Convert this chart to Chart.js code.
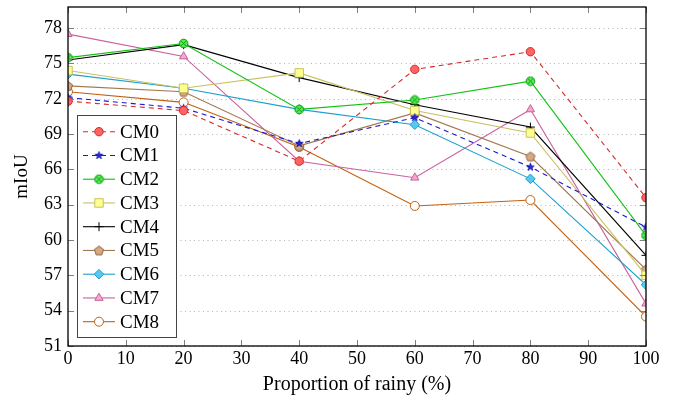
<!DOCTYPE html>
<html>
<head>
<meta charset="utf-8">
<script src="https://cdn.jsdelivr.net/npm/chart.js@4.4.1/dist/chart.umd.min.js"></script>
<style>
  html, body { margin: 0; padding: 0; background: #fff; }
  #wrap { width: 677px; height: 401px; }
</style>
</head>
<body>
<div id="wrap"><canvas id="chart" width="677" height="401"></canvas></div>
<script>
// ---------- data ----------
const xValues = [0, 20, 40, 60, 80, 100];
const seriesNames = ["CM0", "CM1", "CM2", "CM3", "CM4", "CM5", "CM6", "CM7", "CM8"];

const cm0 = [71.8, 71.0, 66.7, 74.5, 76.0, 63.6];
const cm1 = [72.1, 71.2, 68.2, 70.4, 66.2, 61.1];
const cm2 = [75.5, 76.7, 71.1, 71.9, 73.5, 60.4];
const cm3 = [74.4, 72.9, 74.2, 71.0, 69.1, 57.0];
const cm4 = [75.3, 76.6, 73.8, 71.5, 69.6, 58.7];
const cm5 = [73.1, 72.6, 68.0, 70.8, 67.1, 57.5];
const cm6 = [74.1, 72.9, 71.1, 69.8, 65.2, 56.2];
const cm7 = [77.5, 75.6, 66.7, 65.3, 71.1, 54.6];
const cm8 = [72.6, 71.7, 67.9, 62.9, 63.4, 53.5];

const yTicks = [51, 54, 57, 60, 63, 66, 69, 72, 75, 78];
const xTicks = [0, 10, 20, 30, 40, 50, 60, 70, 80, 90, 100];

const FONT = "'Liberation Serif', 'DejaVu Serif', serif";

// ---------- custom markers ----------
function makeMarker(size, draw) {
  const c = document.createElement("canvas");
  c.width = size; c.height = size;
  draw(c.getContext("2d"), size / 2);
  return c;
}

const crossCircle = makeMarker(11, (g, m) => {
  g.beginPath(); g.arc(m, m, 4.3, 0, Math.PI * 2);
  g.fillStyle = "#5ee65e"; g.fill();
  g.strokeStyle = "#00a000"; g.lineWidth = 1; g.stroke();
  g.beginPath();
  g.moveTo(m - 2.9, m - 2.9); g.lineTo(m + 2.9, m + 2.9);
  g.moveTo(m + 2.9, m - 2.9); g.lineTo(m - 2.9, m + 2.9);
  g.stroke();
});

const pentagon = makeMarker(12, (g, m) => {
  g.beginPath();
  for (let i = 0; i < 5; i++) {
    const a = -Math.PI / 2 + i * 2 * Math.PI / 5;
    const px = m + 4.8 * Math.cos(a), py = m + 0.4 + 4.8 * Math.sin(a);
    i ? g.lineTo(px, py) : g.moveTo(px, py);
  }
  g.closePath();
  g.fillStyle = "#d7a983"; g.fill();
  g.strokeStyle = "#8c6440"; g.lineWidth = 1; g.stroke();
});

const star = makeMarker(11, (g, m) => {
  g.beginPath();
  for (let i = 0; i < 10; i++) {
    const r = i % 2 ? 1.5 : 4;
    const a = -Math.PI / 2 + i * Math.PI / 5;
    const px = m + r * Math.cos(a), py = m + r * Math.sin(a);
    i ? g.lineTo(px, py) : g.moveTo(px, py);
  }
  g.closePath();
  g.fillStyle = "#3030d0"; g.fill();
  g.strokeStyle = "#0000b0"; g.lineWidth = 0.8; g.stroke();
});

// ---------- series styles ----------
const lineColors = ["#d42a2a", "#1a1ad0", "#10c010", "#c8c060", "#000000", "#a07850", "#1aa0d0", "#c8609c", "#c06010"];
const fillColors = ["#ff6464", "#1a1ad0", "#5ee65e", "#ffff90", "#000000", "#d7a983", "#58c8f0", "#f4a8cc", "#ffffff"];
const pointStyles = ["circle", star, crossCircle, "rect", "cross", pentagon, "rectRot", "triangle", "circle"];
const pointRadius = [4.2, 4, 4, 6, 4.5, 4, 4.8, 4.8, 4.5];
const dashes = [[5, 4], [5, 4], [], [], [], [], [], [], []];
const seriesValues = [cm0, cm1, cm2, cm3, cm4, cm5, cm6, cm7, cm8];

const datasets = seriesNames.map((name, i) => ({
  label: name,
  data: xValues.map((x, j) => ({ x: x, y: seriesValues[i][j] })),
  borderColor: lineColors[i],
  backgroundColor: fillColors[i],
  pointBorderColor: lineColors[i],
  pointBackgroundColor: fillColors[i],
  pointStyle: pointStyles[i],
  pointRadius: pointRadius[i],
  pointHoverRadius: pointRadius[i],
  pointBorderWidth: 1,
  borderWidth: 1.1,
  borderDash: dashes[i],
  tension: 0,
  fill: false
}));

// ---------- frame, grid and ticks (pgfplots look) ----------
const framePlugin = {
  id: "frame",
  beforeDatasetsDraw(chart) {
    const { ctx, chartArea: a, scales } = chart;
    ctx.save();
    ctx.strokeStyle = "#b4b4b4";
    ctx.lineWidth = 1;
    ctx.setLineDash([1, 3.5]);
    yTicks.forEach(v => {
      const y = Math.round(scales.y.getPixelForValue(v)) + 0.5;
      ctx.beginPath(); ctx.moveTo(a.left, y); ctx.lineTo(a.right, y); ctx.stroke();
    });
    ctx.restore();
  },
  afterDatasetsDraw(chart) {
    const { ctx, chartArea: a, scales } = chart;
    ctx.save();
    ctx.strokeStyle = "#808080";
    ctx.lineWidth = 1;
    yTicks.forEach(v => {
      const y = Math.round(scales.y.getPixelForValue(v)) + 0.5;
      ctx.beginPath();
      ctx.moveTo(a.left, y); ctx.lineTo(a.left + 6, y);
      ctx.moveTo(a.right, y); ctx.lineTo(a.right - 6, y);
      ctx.stroke();
    });
    xTicks.forEach(v => {
      const x = Math.round(scales.x.getPixelForValue(v)) + 0.5;
      ctx.beginPath();
      ctx.moveTo(x, a.bottom); ctx.lineTo(x, a.bottom - 6);
      ctx.moveTo(x, a.top); ctx.lineTo(x, a.top + 6);
      ctx.stroke();
    });
    ctx.strokeStyle = "#000";
    ctx.lineWidth = 1.3;
    ctx.strokeRect(a.left, a.top, a.right - a.left, a.bottom - a.top);
    ctx.restore();
  }
};

// ---------- legend inside the plot ----------
const legendPlugin = {
  id: "insideLegend",
  afterDraw(chart) {
    const { ctx, chartArea: a } = chart;
    const left = a.left + 9, top = 115, w = 99, h = 222;
    ctx.save();
    ctx.fillStyle = "#fff";
    ctx.fillRect(left, top, w, h);
    ctx.strokeStyle = "#444";
    ctx.lineWidth = 1;
    ctx.strokeRect(left + 0.5, top + 0.5, w, h);
    chart.data.datasets.forEach((ds, i) => {
      const y = top + 16.7 + i * 23.75;
      ctx.strokeStyle = ds.borderColor;
      ctx.lineWidth = ds.borderWidth;
      ctx.setLineDash(ds.borderDash);
      ctx.beginPath(); ctx.moveTo(left + 6, y); ctx.lineTo(left + 38, y); ctx.stroke();
      ctx.setLineDash([]);
      ctx.fillStyle = ds.pointBackgroundColor;
      ctx.strokeStyle = ds.pointBorderColor;
      ctx.lineWidth = 1;
      Chart.helpers.drawPoint(ctx, {
        pointStyle: ds.pointStyle, radius: ds.pointRadius, rotation: 0, borderWidth: 1
      }, left + 22, y);
      ctx.fillStyle = "#000";
      ctx.font = "19px " + FONT;
      ctx.textBaseline = "middle";
      ctx.fillText(ds.label, left + 43, y + 1);
    });
    ctx.restore();
  }
};

new Chart(document.getElementById("chart"), {
  type: "line",
  data: { datasets: datasets },
  options: {
    responsive: false,
    animation: false,
    layout: { padding: { top: 7, right: 31, left: 0, bottom: 0 } },
    plugins: {
      legend: { display: false },
      tooltip: { enabled: false }
    },
    scales: {
      x: {
        type: "linear",
        min: 0,
        max: 100,
        afterBuildTicks: s => { s.ticks = xTicks.map(v => ({ value: v })); },
        afterFit: s => { s.height = 55; s.paddingLeft = 0; s.paddingRight = 0; },
        grid: { display: false, drawTicks: false },
        border: { display: false },
        ticks: { color: "#000", padding: 2, font: { family: FONT, size: 18 }, maxRotation: 0 },
        title: {
          display: true, text: "Proportion of rainy (%)", color: "#000",
          font: { family: FONT, size: 20 }, padding: { top: 4, bottom: 4 }
        }
      },
      y: {
        type: "linear",
        min: 51,
        max: 79.8,
        afterBuildTicks: s => { s.ticks = yTicks.map(v => ({ value: v })); },
        afterFit: s => { s.width = 68; s.paddingTop = 0; s.paddingBottom = 0; },
        grid: { display: false, drawTicks: false },
        border: { display: false },
        ticks: { color: "#000", padding: 6, font: { family: FONT, size: 18 } },
        title: {
          display: true, text: "mIoU", color: "#000",
          font: { family: FONT, size: 19 }, padding: { top: 11, bottom: 11 }
        }
      }
    }
  },
  plugins: [framePlugin, legendPlugin]
});
</script>
</body>
</html>
